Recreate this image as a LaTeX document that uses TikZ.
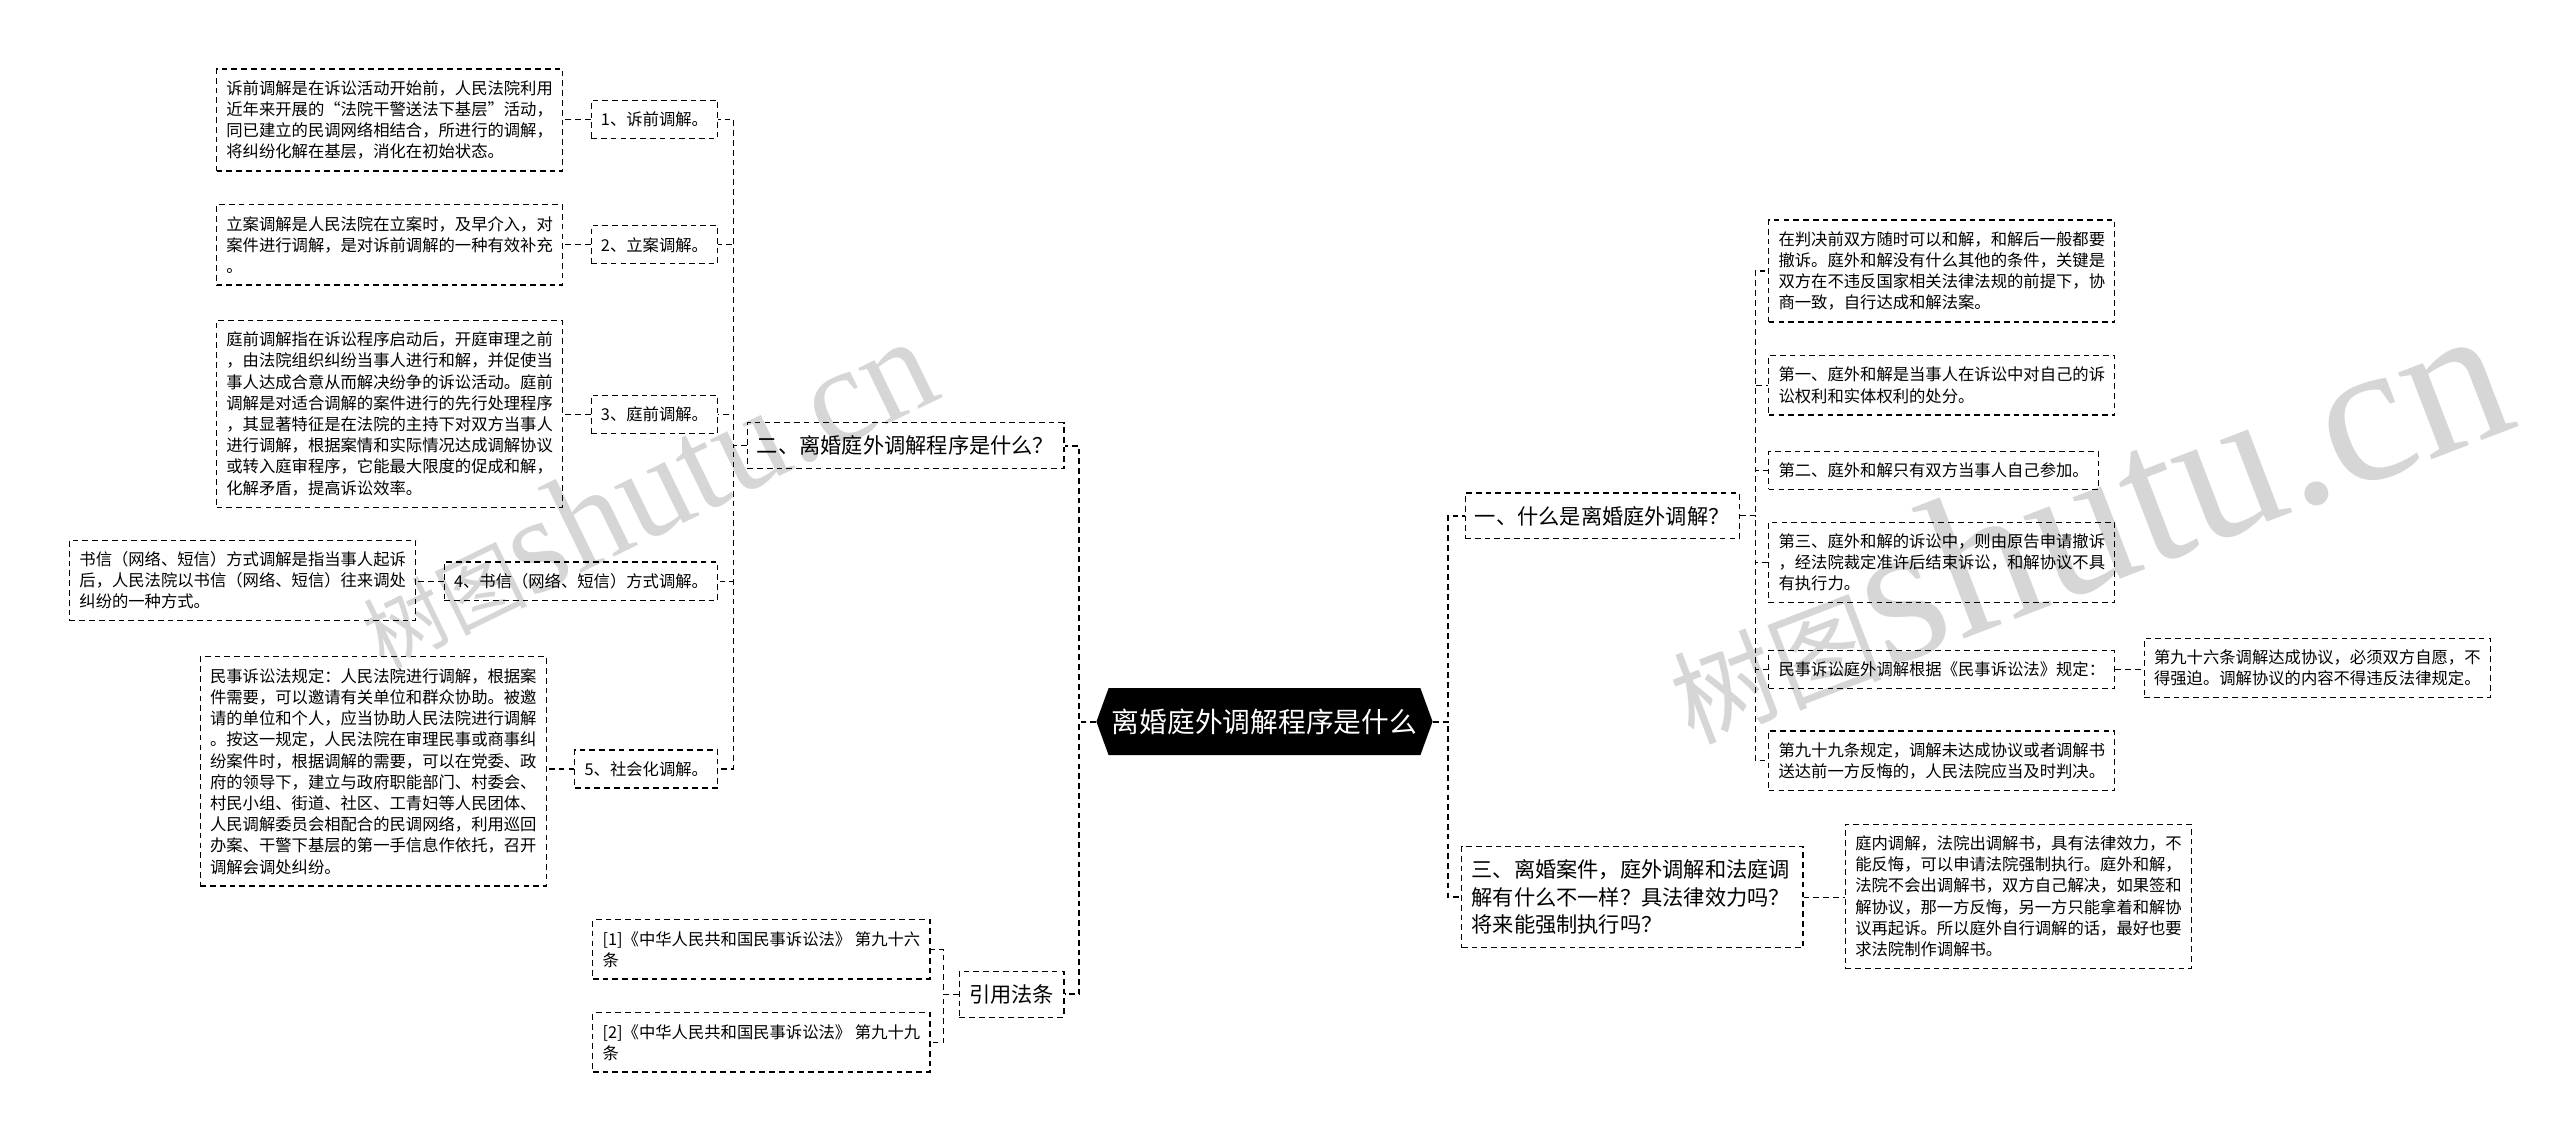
\documentclass[tikz,border=0pt]{standalone}
\usepackage{fontspec}
\newfontfamily\cjk{Noto Sans CJK SC}
\newfontfamily\wmfont{Liberation Serif}
\usetikzlibrary{shapes.symbols}

\begin{document}
\begin{tikzpicture}[x=1pt,y=-1pt,
  leaf/.style={draw,dash pattern=on 3.5pt off 2.5pt,line width=0.7pt,align=left,
    inner xsep=6pt,inner ysep=7pt,font=\cjk\fontsize{10}{13}\selectfont},
  branch/.style={leaf,inner ysep=8pt,font=\cjk\fontsize{13}{17}\selectfont},
  root/.style={signal,signal to=west and east,signal pointer angle=140,fill=black,
    text=white,inner xsep=2pt,minimum height=41pt,font=\cjk\fontsize{17}{20}\selectfont},
  link/.style={dash pattern=on 3.5pt off 2.5pt,line width=0.7pt},
  trunk/.style={link,line width=1.2pt},
  wm/.style={text=black!16,inner sep=0pt}]
  \useasboundingbox (0,0) rectangle (1568,700);

  % watermark
  \node[wm,rotate=26] (wmleft) at (395,302)
    {\cjk\fontsize{50}{50}\selectfont 树图\wmfont\fontsize{84}{84}\selectfont shutu.cn};
  \node[wm,rotate=21] (wmright) at (1276,320)
    {\cjk\fontsize{64}{64}\selectfont 树图\wmfont\fontsize{124}{124}\selectfont shutu.cn};

  % centre
  \node[root] (root) at (774.5,442) {离婚庭外调解程序是什么};

  % left: procedure
  \node[branch,anchor=east] (two) at (652,273) {二、离婚庭外调解程序是什么？};
  \node[leaf,anchor=east] (i1) at (440,73) {1、诉前调解。};
  \node[leaf,anchor=east] (i2) at (440,150) {2、立案调解。};
  \node[leaf,anchor=east] (i3) at (440,254) {3、庭前调解。};
  \node[leaf,anchor=east] (i4) at (440,356) {4、书信（网络、短信）方式调解。};
  \node[leaf,anchor=east] (i5) at (440,471) {5、社会化调解。};
  \node[leaf,anchor=east] (d1) at (345,73.5) {诉前调解是在诉讼活动开始前，人民法院利用\\近年来开展的“法院干警送法下基层”活动，\\同已建立的民调网络相结合，所进行的调解，\\将纠纷化解在基层，消化在初始状态。};
  \node[leaf,anchor=east] (d2) at (345,150) {立案调解是人民法院在立案时，及早介入，对\\案件进行调解，是对诉前调解的一种有效补充\\。};
  \node[leaf,anchor=east] (d3) at (345,253.5) {庭前调解指在诉讼程序启动后，开庭审理之前\\，由法院组织纠纷当事人进行和解，并促使当\\事人达成合意从而解决纷争的诉讼活动。庭前\\调解是对适合调解的案件进行的先行处理程序\\，其显著特征是在法院的主持下对双方当事人\\进行调解，根据案情和实际情况达成调解协议\\或转入庭审程序，它能最大限度的促成和解，\\化解矛盾，提高诉讼效率。};
  \node[leaf,anchor=east] (d4) at (255,355.5) {书信（网络、短信）方式调解是指当事人起诉\\后，人民法院以书信（网络、短信）往来调处\\纠纷的一种方式。};
  \node[leaf,anchor=east] (d5) at (335,472.5) {民事诉讼法规定：人民法院进行调解，根据案\\件需要，可以邀请有关单位和群众协助。被邀\\请的单位和个人，应当协助人民法院进行调解\\。按这一规定，人民法院在审理民事或商事纠\\纷案件时，根据调解的需要，可以在党委、政\\府的领导下，建立与政府职能部门、村委会、\\村民小组、街道、社区、工青妇等人民团体、\\人民调解委员会相配合的民调网络，利用巡回\\办案、干警下基层的第一手信息作依托，召开\\调解会调处纠纷。};

  % left: cited articles
  \node[branch,anchor=east] (law) at (652,609) {引用法条};
  \node[leaf,anchor=east] (r1) at (570,581.5) {[1]《中华人民共和国民事诉讼法》 第九十六\\条};
  \node[leaf,anchor=east] (r2) at (570,638.5) {[2]《中华人民共和国民事诉讼法》 第九十九\\条};

  % right: what it is
  \node[branch,anchor=west] (one) at (897,316) {一、什么是离婚庭外调解？};
  \node[leaf,anchor=west] (e1) at (1083,166) {在判决前双方随时可以和解，和解后一般都要\\撤诉。庭外和解没有什么其他的条件，关键是\\双方在不违反国家相关法律法规的前提下，协\\商一致，自行达成和解法案。};
  \node[leaf,anchor=west] (e2) at (1083,236) {第一、庭外和解是当事人在诉讼中对自己的诉\\讼权利和实体权利的处分。};
  \node[leaf,anchor=west] (e3) at (1083,288) {第二、庭外和解只有双方当事人自己参加。};
  \node[leaf,anchor=west] (e4) at (1083,344.5) {第三、庭外和解的诉讼中，则由原告申请撤诉\\，经法院裁定准许后结束诉讼，和解协议不具\\有执行力。};
  \node[leaf,anchor=west] (e5) at (1083,410) {民事诉讼庭外调解根据《民事诉讼法》规定：};
  \node[leaf,anchor=west] (f) at (1313,409) {第九十六条调解达成协议，必须双方自愿，不\\得强迫。调解协议的内容不得违反法律规定。};
  \node[leaf,anchor=west] (e6) at (1083,466) {第九十九条规定，调解未达成协议或者调解书\\送达前一方反悔的，人民法院应当及时判决。};

  % right: difference
  \node[branch,anchor=west,text width=197pt] (three) at (895,549.5) {三、离婚案件，庭外调解和法庭调\\解有什么不一样？具法律效力吗？\\将来能强制执行吗？};
  \node[leaf,anchor=west] (g) at (1130,549) {庭内调解，法院出调解书，具有法律效力，不\\能反悔，可以申请法院强制执行。庭外和解，\\法院不会出调解书，双方自己解决，如果签和\\解协议，那一方反悔，另一方只能拿着和解协\\议再起诉。所以庭外自行调解的话，最好也要\\求法院制作调解书。};

  % connectors
  \draw[trunk] (root.west) -- ([xshift=9pt]two.east |- root.west) |- (two.east);
  \draw[trunk] (root.west) -- ([xshift=9pt]two.east |- root.west) |- (law.east);
  \draw[trunk] (root.east) -- ([xshift=-10pt]one.west |- root.east) |- (one.west);
  \draw[trunk] (root.east) -- ([xshift=-10pt]one.west |- root.east) |- (three.west);
  \draw[link] (two.west) -- ([xshift=9pt]i1.east |- two.west) |- (i1.east);
  \draw[link] (two.west) -- ([xshift=9pt]i1.east |- two.west) |- (i2.east);
  \draw[link] (two.west) -- ([xshift=9pt]i1.east |- two.west) |- (i3.east);
  \draw[link] (two.west) -- ([xshift=9pt]i1.east |- two.west) |- (i4.east);
  \draw[link] (two.west) -- ([xshift=9pt]i1.east |- two.west) |- (i5.east);
  \draw[link] (i1.west) -- (i1.west -| d1.east);
  \draw[link] (i2.west) -- (i2.west -| d2.east);
  \draw[link] (i3.west) -- (i3.west -| d3.east);
  \draw[link] (i4.west) -- (i4.west -| d4.east);
  \draw[link] (i5.west) -- (i5.west -| d5.east);
  \draw[link] (law.west) -- ([xshift=8pt]r1.east |- law.west) |- (r1.east);
  \draw[link] (law.west) -- ([xshift=8pt]r1.east |- law.west) |- (r2.east);
  \draw[link] (one.east) -- ([xshift=-8pt]e1.west |- one.east) |- (e1.west);
  \draw[link] (one.east) -- ([xshift=-8pt]e1.west |- one.east) |- (e2.west);
  \draw[link] (one.east) -- ([xshift=-8pt]e1.west |- one.east) |- (e3.west);
  \draw[link] (one.east) -- ([xshift=-8pt]e1.west |- one.east) |- (e4.west);
  \draw[link] (one.east) -- ([xshift=-8pt]e1.west |- one.east) |- (e5.west);
  \draw[link] (one.east) -- ([xshift=-8pt]e1.west |- one.east) |- (e6.west);
  \draw[link] (e5.east) -- (e5.east -| f.west);
  \draw[link] (three.east) -- (three.east -| g.west);
\end{tikzpicture}
\end{document}
